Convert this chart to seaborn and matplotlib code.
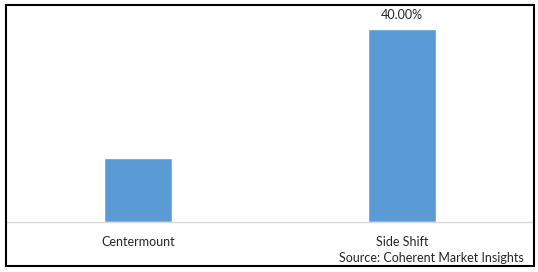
import matplotlib
matplotlib.use("Agg")
import matplotlib.pyplot as plt
import seaborn as sns
import pandas as pd
from matplotlib.patches import Rectangle

categories = ["Centermount", "Side Shift"]
values = [13.3, 40.0]
labels = ["", "40.00%"]
source = "Source: Coherent Market Insights"

sns.set_style("white")
plt.rcParams['font.family'] = ['Lato', 'DejaVu Sans']

df = pd.DataFrame({"category": categories, "value": values})

fig = plt.figure(figsize=(5.38, 2.72), dpi=100)
W, H = 538, 272
ax = fig.add_axes([6 / W, (H - 222) / H, 528 / W, 217 / H])
sns.barplot(data=df, x="category", y="value", color="#5B9BD5", width=0.26,
            saturation=1, ax=ax)
ax.set_ylim(0, 45)
ax.set_xlim(-0.5, 1.5)
for s in ["top", "left", "right"]:
    ax.spines[s].set_visible(False)
ax.spines["bottom"].set_color("#D9D9D9")
ax.spines["bottom"].set_linewidth(1.0)
ax.set_yticks([])
ax.set_xlabel("")
ax.set_ylabel("")
ax.tick_params(axis="x", length=0, pad=10, labelsize=9, labelcolor="#262626")
ax.patch.set_alpha(0)

for i, (v, lab) in enumerate(zip(values, labels)):
    if lab:
        ax.annotate(lab, (i, v), xytext=(0, 6), textcoords="offset points",
                    ha="center", va="bottom", fontsize=9, color="#262626")

fig.text(524 / W, 1 - 258 / H, source, ha="right", va="center", fontsize=9,
         color="#262626")

fig.patches.append(Rectangle((6 / W, 1 - 266 / H), 528 / W, 261.5 / H,
                             transform=fig.transFigure, fill=False,
                             edgecolor="black", linewidth=1.5, zorder=10))

fig.savefig("out.png", dpi=100)
